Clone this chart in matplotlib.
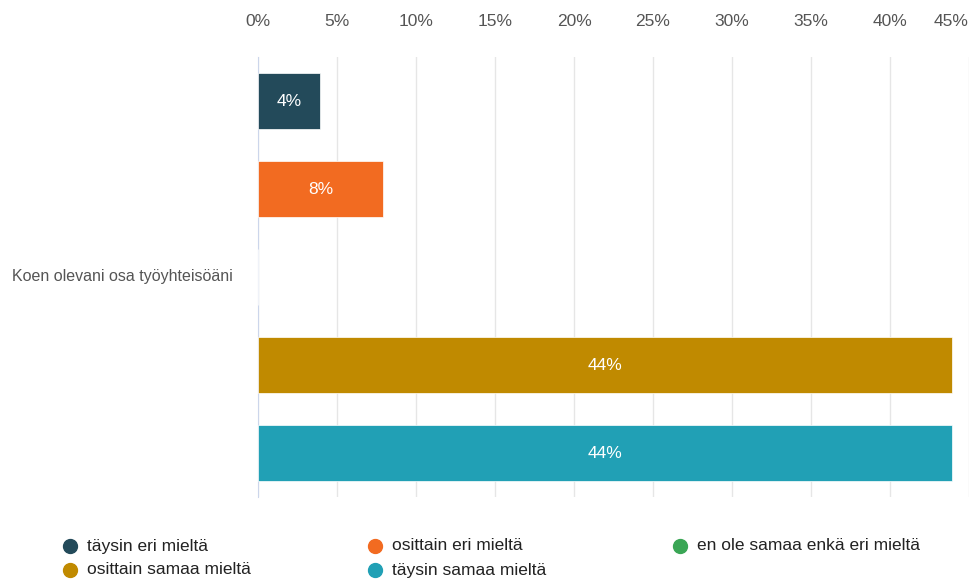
import matplotlib.pyplot as plt
from matplotlib.lines import Line2D
import numpy as np

# data
categories = ['täysin eri mieltä', 'osittain eri mieltä', 'en ole samaa enkä eri mieltä',
              'osittain samaa mieltä', 'täysin samaa mieltä']
values = [3.9, 7.9, 0.0, 43.9, 43.9]
colors = ['#234a5a', '#f26b21', '#3aa655', '#c08a00', '#21a0b5']
question = 'Koen olevani osa työyhteisöäni'
ticks = np.arange(0, 50, 5)

plt.rcParams['font.family'] = ['Liberation Sans', 'DejaVu Sans']

W, H = 971, 586
fig = plt.figure(figsize=(W/100, H/100), dpi=100)
ax = fig.add_axes([258/W, 1-497/H, (969-258)/W, (497-57)/H])

y = np.arange(len(values))
bars = ax.barh(y, values, height=0.64, color=colors, edgecolor='white', linewidth=0.5, zorder=3)
for b, v in zip(bars, values):
    if v > 0:
        ax.text(v/2, b.get_y()+b.get_height()/2, f'{v:.0f}%', ha='center', va='center',
                color='white', fontsize=12.5, zorder=4)

ax.set_ylim(len(values)-0.5, -0.5)
ax.set_xlim(0, 45)
ax.xaxis.tick_top()
ax.set_xticks(ticks)
ax.set_xticklabels([f'{t}%' for t in ticks], color='#555555', fontsize=12.5)
ax.tick_params(axis='x', length=0, pad=20)
last = ax.xaxis.get_major_ticks()[-1]
last.label2.set_ha('right')
ax.set_yticks([])
ax.grid(axis='x', color='#e6e6e6', linewidth=1, zorder=0)
for s in ['top', 'right', 'bottom']:
    ax.spines[s].set_visible(False)
ax.spines['left'].set_color('#ccd6eb')
ax.text(-0.346, 0.5, question, transform=ax.transAxes, ha='left', va='center',
        color='#555555', fontsize=11.5)

# legend at the bottom, three columns
col_x = [70, 375, 680]
row_y = [546, 570]
for i, (lab, c) in enumerate(zip(categories, colors)):
    r, k = divmod(i, 3)
    fx, fy = col_x[k]/W, 1-row_y[r]/H
    fig.add_artist(Line2D([fx], [fy], marker='o', markersize=10, color=c,
                          linestyle='', transform=fig.transFigure))
    fig.text(fx+17/W, fy, lab, ha='left', va='center', fontsize=12.5, color='#222222')

plt.savefig('out.png')
